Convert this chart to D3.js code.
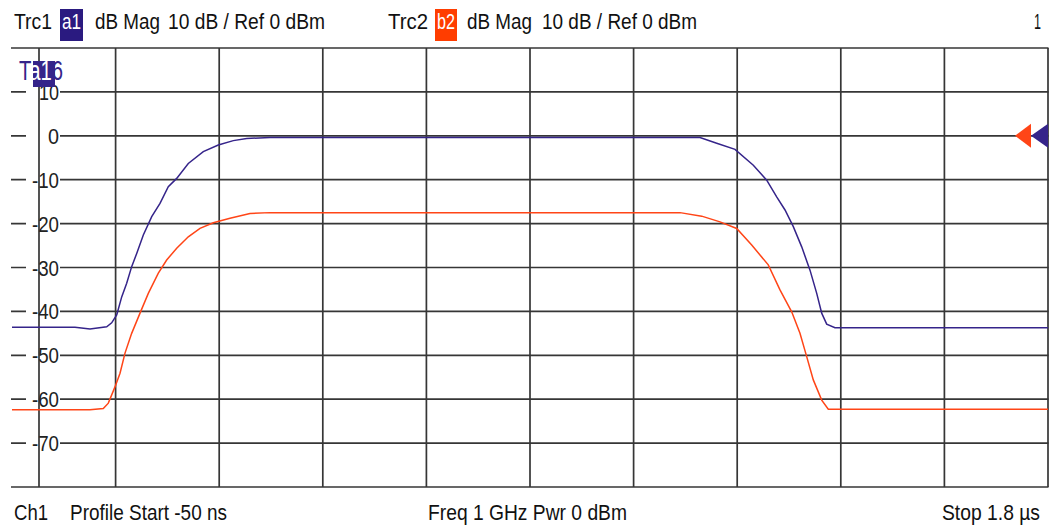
<!DOCTYPE html>
<html><head><meta charset="utf-8">
<script src="https://cdn.jsdelivr.net/npm/d3@7"></script>
<style>
html,body{margin:0;padding:0;background:#fff;}
svg{display:block;}
text{font-family:"Liberation Sans Narrow","Liberation Sans",Arial,sans-serif;}
</style></head>
<body>
<svg id="chart" width="1060" height="526"></svg>
<script>
// ---- data (time in µs, magnitude in dB) ----
const startTime = -0.05;   // Profile Start -50 ns
const stopTime = 1.8;      // Stop 1.8 µs
const divisions = 10;
const refTop = 20, refBottom = -80;
const yTickValues = [10, 0, -10, -20, -30, -40, -50, -60, -70];
const yTickLabels = ["10", "0", "-10", "-20", "-30", "-40", "-50", "-60", "-70"];

const trc1Time = [-0.05, 0.0625, 0.0893, 0.1191, 0.128, 0.137, 0.1459, 0.1548, 0.1637, 0.1727, 0.1845, 0.1995, 0.2143, 0.2291, 0.2441, 0.2648, 0.2916, 0.3184, 0.3452, 0.3691, 0.4107,
  1.1786, 1.2084, 1.2411, 1.2738, 1.2977, 1.3155, 1.3304, 1.3452, 1.3602, 1.375, 1.387, 1.3959, 1.4048, 1.4196, 1.8];
const trc1Mag = [-43.6, -43.6, -44.0, -43.5, -42.6, -40.8, -36.7, -33.6, -29.8, -26.8, -22.6, -18.4, -15.4, -11.6, -9.7, -6.3, -3.6, -2.1, -1.1, -0.6, -0.4,
  -0.4, -1.7, -3.1, -6.7, -10.1, -13.9, -16.9, -20.7, -25.3, -30.6, -35.9, -40.4, -42.9, -43.7, -43.7];

const trc2Time = [-0.05, 0.0893, 0.113, 0.122, 0.1339, 0.1429, 0.1518, 0.1637, 0.1786, 0.1934, 0.2113, 0.2262, 0.2441, 0.2648, 0.2857, 0.3095, 0.3393, 0.375, 0.4107,
  1.1429, 1.1816, 1.2143, 1.2441, 1.2709, 1.3005, 1.3214, 1.3423, 1.3571, 1.3691, 1.3809, 1.3959, 1.4077, 1.8];
const trc2Mag = [-62.4, -62.4, -62.1, -60.9, -57.2, -54.1, -49.5, -45.0, -40.4, -35.9, -31.3, -28.3, -25.6, -23.0, -21.1, -19.8, -18.8, -17.7, -17.5,
  -17.5, -18.3, -19.6, -21.1, -24.9, -29.4, -35.1, -40.1, -45.0, -50.3, -55.6, -60.2, -62.3, -62.3];

const headerLeft = ["Trc1", "a1", "dB Mag", "10 dB / Ref 0 dBm"];
const headerRight = ["Trc2", "b2", "dB Mag", "10 dB / Ref 0 dBm"];
const footer = ["Ch1", "Profile Start -50 ns", "Freq 1 GHz  Pwr 0 dBm", "Stop 1.8 µs"];

// ---- drawing ----
const purple = "#35248a", orange = "#ff4517", gridC = "#363636";
const svg = d3.select("#chart");
const x = d3.scaleLinear().domain([startTime, stopTime]).range([12, 1048]);
const y = d3.scaleLinear().domain([refTop, refBottom]).range([48, 487]);
const divW = (stopTime - startTime) / divisions;

const g = svg.append("g");
// horizontal grid lines
const hVals = d3.range(refTop, refBottom - 1, -10);
g.selectAll("line.h").data(hVals).join("line")
  .attr("x1", 11).attr("x2", 1048.5)
  .attr("y1", d => y(d)).attr("y2", d => y(d))
  .attr("stroke", gridC).attr("stroke-width", 1.7);
// vertical grid lines
g.selectAll("line.v").data(d3.range(1, divisions + 1)).join("line")
  .attr("x1", i => x(startTime + i * divW)).attr("x2", i => x(startTime + i * divW))
  .attr("y1", y(refTop)).attr("y2", y(refBottom))
  .attr("stroke", gridC).attr("stroke-width", 1.7);

// y tick label backgrounds
g.selectAll("rect.lb").data(yTickValues).join("rect")
  .attr("x", 26).attr("y", d => y(d) - 9).attr("width", 34).attr("height", 18)
  .attr("fill", "#fff");
// scale line
g.append("line").attr("x1", 39).attr("x2", 39).attr("y1", y(refTop)).attr("y2", y(refBottom))
  .attr("stroke", gridC).attr("stroke-width", 1.7);
// y tick labels
const lw = {1: 11, 2: 20, 3: 27};
g.selectAll("text.yl").data(yTickValues).join("text")
  .attr("x", 59).attr("y", d => y(d) + 8)
  .attr("text-anchor", "end").attr("font-size", 22).attr("fill", "#222")
  .attr("textLength", (d, i) => lw[yTickLabels[i].length])
  .attr("lengthAdjust", "spacingAndGlyphs")
  .text((d, i) => yTickLabels[i]);

// traces
const line = d3.line().x(d => x(d[0])).y(d => y(d[1]));
const t1 = trc1Time.map((t, i) => [t, trc1Mag[i]]);
const t2 = trc2Time.map((t, i) => [t, trc2Mag[i]]);
g.append("path").attr("d", line(t2)).attr("fill", "none").attr("stroke", orange).attr("stroke-width", 1.5);
g.append("path").attr("d", line(t1)).attr("fill", "none").attr("stroke", purple).attr("stroke-width", 1.5);

// reference markers at 0 dB
const ry = y(0);
g.append("path").attr("d", `M${1015},${ry} L${1031},${ry - 12} L${1031},${ry + 12} Z`).attr("fill", orange);
g.append("path").attr("d", `M${1031},${ry} L${1048},${ry - 12} L${1048},${ry + 12} Z`).attr("fill", purple);

// trace label in the grid (single text with tspans)
g.append("rect").attr("x", 33).attr("y", 61).attr("width", 22).attr("height", 26).attr("fill", purple);
const tl = g.append("text").attr("x", 19).attr("y", 80).attr("font-size", 27).attr("fill", purple)
  .attr("textLength", 44).attr("lengthAdjust", "spacingAndGlyphs");
tl.append("tspan").text("T");
tl.append("tspan").attr("fill", "#fff").text("a1");
tl.append("tspan").text("6");

// header
function label(txt, x0, len, yb, color) {
  svg.append("text").attr("x", x0).attr("y", yb).attr("font-size", 22).attr("fill", color || "#111")
    .attr("textLength", len).attr("lengthAdjust", "spacingAndGlyphs").text(txt);
}
label(headerLeft[0], 14, 38, 29);
svg.append("rect").attr("x", 60).attr("y", 9).attr("width", 23).attr("height", 32).attr("fill", "#2a1a80");
label(headerLeft[1], 62, 19, 29, "#fff");
label(headerLeft[2], 95, 65, 29);
label(headerLeft[3], 168, 157, 29);
label(headerRight[0], 388, 40, 29);
svg.append("rect").attr("x", 435).attr("y", 9).attr("width", 22).attr("height", 32).attr("fill", "#ff3d00");
label(headerRight[1], 437, 18, 29, "#fff");
label(headerRight[2], 467, 65, 29);
label(headerRight[3], 542, 155, 29);
label("1", 1034, 7, 29);

// footer
label(footer[0], 14, 34, 520);
label(footer[1], 70, 157, 520);
label(footer[2], 428, 199, 520);
label(footer[3], 942, 98, 520);
</script>
</body></html>
